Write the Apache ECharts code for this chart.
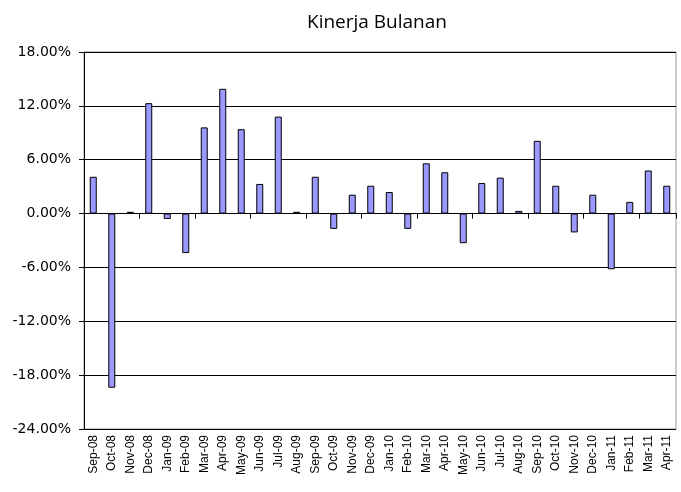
<!DOCTYPE html>
<html>
<head>
<meta charset="utf-8">
<script src="https://cdn.jsdelivr.net/npm/echarts@6/dist/echarts.min.js"></script>
<style>html,body{margin:0;padding:0;background:#fff}#c{width:681px;height:492px}</style>
</head>
<body>
<div id="c"></div>
<script>
const categories = ["Sep-08","Oct-08","Nov-08","Dec-08","Jan-09","Feb-09","Mar-09","Apr-09","May-09","Jun-09","Jul-09","Aug-09","Sep-09","Oct-09","Nov-09","Dec-09","Jan-10","Feb-10","Mar-10","Apr-10","May-10","Jun-10","Jul-10","Aug-10","Sep-10","Oct-10","Nov-10","Dec-10","Jan-11","Feb-11","Mar-11","Apr-11"];
const monthlyReturn = [4.1,-19.4,0.2,12.3,-0.6,-4.4,9.6,13.9,9.4,3.3,10.8,0.2,4.1,-1.7,2.1,3.1,2.4,-1.7,5.6,4.6,-3.3,3.4,4.0,0.3,8.1,3.1,-2.1,2.1,-6.2,1.3,4.8,3.1];
const yMin = -24, yMax = 18, yStep = 6;
const titleText = "Kinerja Bulanan";

const chart = echarts.init(document.getElementById('c'));
chart.setOption({
  animation: false,
  backgroundColor: '#fff',
  title: {
    text: titleText, left: 302, top: 8,
    textStyle: {fontFamily: 'Open Sans', fontSize: 19, fontWeight: 'normal', color: '#000'}
  },
  grid: {left: 84, right: 5, top: 52, bottom: 63, show: true, borderColor: '#999', borderWidth: 1},
  xAxis: [
    {
      type: 'category', data: categories, position: 'bottom',
      axisLine: {show: false, onZero: false}, axisTick: {show: false},
      axisLabel: {rotate: 90, interval: 0, margin: 6, fontFamily: "'Liberation Sans Narrow', 'Liberation Sans'", fontSize: 12, color: '#000'},
      splitLine: {show: false}
    },
    {
      type: 'category', data: categories, position: 'top',
      axisLine: {show: true, onZero: true, lineStyle: {color: '#000', width: 1}},
      axisTick: {show: true, length: 5, inside: true, lineStyle: {color: '#000'}},
      axisLabel: {show: false}
    }
  ],
  yAxis: {
    type: 'value', min: yMin, max: yMax, interval: yStep,
    axisLine: {show: true, lineStyle: {color: '#000'}},
    axisTick: {show: true, length: 5, lineStyle: {color: '#000'}},
    axisLabel: {formatter: v => v.toFixed(2) + '%', fontFamily: 'DejaVu Sans', fontSize: 14, color: '#000', margin: 13},
    splitLine: {show: true, lineStyle: {color: '#000', width: 1}}
  },
  series: [{
    type: 'bar', xAxisIndex: 0, data: monthlyReturn, barWidth: 7,
    itemStyle: {color: '#9999FF', borderColor: '#000', borderWidth: 1}
  }]
});
</script>
</body>
</html>
